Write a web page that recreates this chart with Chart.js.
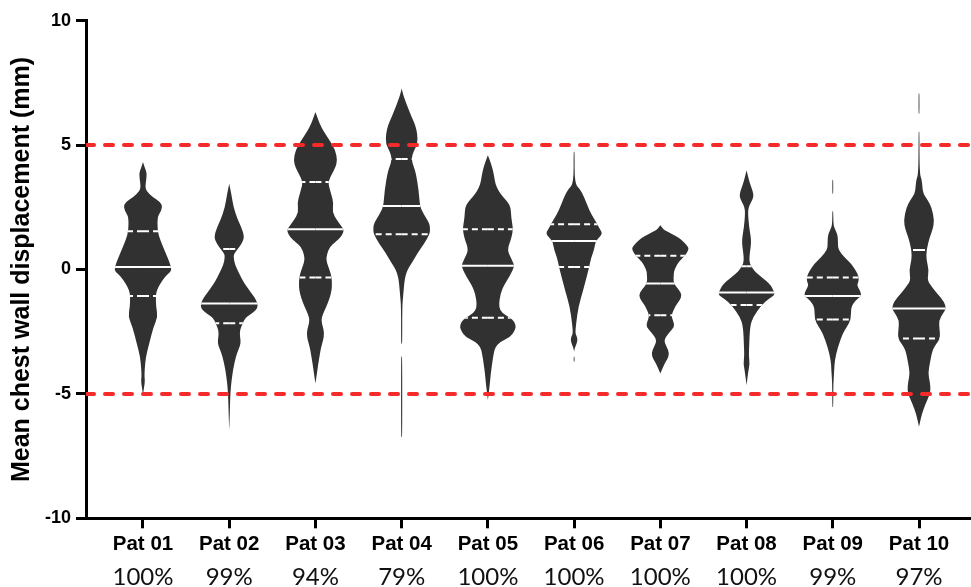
<!DOCTYPE html>
<html>
<head>
<meta charset="utf-8">
<script src="https://cdn.jsdelivr.net/npm/chart.js@4.4.1/dist/chart.umd.min.js"></script>
<style>
  html, body { margin: 0; padding: 0; background: #fff; }
  #wrap { width: 971px; height: 587px; }
</style>
</head>
<body>
<div id="wrap"><canvas id="violinChart"></canvas></div>
<script>
const patients = ["Pat 01", "Pat 02", "Pat 03", "Pat 04", "Pat 05", "Pat 06", "Pat 07", "Pat 08", "Pat 09", "Pat 10"];
const inRange = ["100%", "99%", "94%", "79%", "100%", "100%", "100%", "100%", "99%", "97%"];
const medians = [0.10, -1.37, 1.62, 2.55, 0.15, 1.15, -0.56, -0.92, -1.07, -1.57];
const upperQuartiles = [1.54, 0.82, 3.52, 4.44, 1.62, 1.82, 0.55, 0.13, -0.32, 0.78];
const lowerQuartiles = [-1.07, -2.16, -0.32, 1.42, -1.94, 0.10, -1.84, -1.43, -2.01, -2.77];
const limitLines = [5, -5];

// violin outlines: [displacement (mm), relative width (1 = widest)]
const pat01 = [[4.32,0],[4.10,0.06],[3.90,0.13],[3.65,0.12],[3.35,0.08],[3.15,0.12],[2.90,0.35],[2.70,0.62],[2.50,0.69],[2.25,0.58],[2.10,0.51],[1.55,0.51],[1.20,0.60],[0.70,0.78],[0.30,0.93],[0.10,0.98],[-0.05,1.0],[-0.30,0.77],[-0.56,0.61],[-0.85,0.48],[-1.07,0.45],[-1.50,0.46],[-1.90,0.52],[-2.30,0.37],[-2.97,0.22],[-3.51,0.10],[-4.00,0.06],[-4.31,0.05],[-4.50,0.07],[-4.70,0.04],[-5.05,0]];
const pat02 = [[3.45,0],[3.0,0.08],[2.5,0.15],[2.0,0.30],[1.71,0.42],[1.31,0.54],[1.0,0.42],[0.82,0.30],[0.65,0.18],[0.51,0.15],[0.2,0.20],[-0.16,0.35],[-0.50,0.50],[-0.83,0.70],[-1.05,0.85],[-1.23,0.94],[-1.37,0.99],[-1.50,1.0],[-1.63,0.94],[-1.80,0.75],[-1.96,0.55],[-2.16,0.48],[-2.44,0.37],[-2.70,0.38],[-2.97,0.41],[-3.20,0.33],[-3.51,0.23],[-4.00,0.14],[-4.31,0.10],[-4.70,0.06],[-5.12,0.035],[-5.8,0.02],[-6.45,0]];
const pat03 = [[6.33,0],[6.0,0.10],[5.73,0.20],[5.45,0.35],[5.19,0.50],[4.80,0.70],[4.39,0.77],[4.10,0.70],[3.86,0.59],[3.52,0.44],[3.25,0.50],[3.05,0.55],[2.65,0.64],[2.31,0.59],[1.98,0.76],[1.75,0.90],[1.62,0.99],[1.50,0.98],[1.31,0.90],[1.10,0.70],[0.91,0.50],[0.60,0.40],[0.37,0.38],[0.15,0.44],[-0.03,0.50],[-0.32,0.57],[-0.60,0.58],[-0.83,0.57],[-1.15,0.50],[-1.50,0.38],[-1.80,0.26],[-2.04,0.20],[-2.30,0.26],[-2.57,0.31],[-2.85,0.27],[-3.11,0.20],[-3.45,0.15],[-3.78,0.10],[-4.2,0.05],[-4.58,0]];
const pat04 = [[7.27,0],[7.0,0.06],[6.80,0.12],[6.45,0.24],[6.13,0.35],[5.80,0.48],[5.46,0.55],[5.06,0.56],[4.72,0.41],[4.44,0.34],[4.15,0.42],[3.86,0.50],[3.18,0.60],[2.55,0.64],[2.25,0.76],[1.85,0.98],[1.60,1.0],[1.42,0.98],[1.04,0.79],[0.64,0.55],[0.30,0.38],[0.10,0.26],[-0.15,0.16],[-0.43,0.10],[-1.10,0.05],[-1.50,0.02],[-2.97,0.02],[-2.98,0],[-3.50,0],[-3.51,0.02],[-6.72,0.02],[-6.73,0]];
const pat05 = [[4.59,0],[4.35,0.08],[4.12,0.15],[3.75,0.22],[3.45,0.26],[3.15,0.38],[2.92,0.53],[2.70,0.70],[2.51,0.80],[2.11,0.82],[1.80,0.86],[1.62,0.88],[1.40,0.85],[1.18,0.80],[0.78,0.68],[0.44,0.82],[0.25,0.90],[0.15,0.92],[0.0,0.88],[-0.30,0.75],[-0.60,0.58],[-0.96,0.44],[-1.50,0.38],[-1.75,0.50],[-1.94,0.79],[-2.10,0.93],[-2.30,0.99],[-2.50,0.92],[-2.71,0.79],[-2.90,0.45],[-3.11,0.26],[-3.40,0.20],[-3.78,0.15],[-4.20,0.10],[-4.58,0.07],[-5.25,0]];
const pat06 = [[4.73,0],[4.72,0.018],[3.45,0.018],[3.25,0.20],[2.92,0.35],[2.38,0.53],[2.05,0.70],[1.82,0.81],[1.60,0.92],[1.45,0.99],[1.30,0.90],[1.15,0.76],[0.78,0.70],[0.44,0.59],[0.10,0.53],[-0.30,0.44],[-0.83,0.32],[-1.50,0.15],[-2.17,0.07],[-2.57,0.04],[-2.70,0.10],[-2.84,0.12],[-3.0,0.08],[-3.17,0.02],[-3.30,0],[-3.50,0],[-3.51,0.015],[-3.70,0.015],[-3.71,0]];
const pat07 = [[1.78,0],[1.60,0.12],[1.51,0.26],[1.35,0.55],[1.18,0.76],[0.95,0.95],[0.84,1.0],[0.70,0.95],[0.55,0.86],[0.40,0.72],[0.24,0.61],[0.0,0.50],[-0.16,0.47],[-0.56,0.46],[-0.80,0.65],[-1.03,0.76],[-1.25,0.68],[-1.43,0.55],[-1.84,0.38],[-2.10,0.46],[-2.30,0.50],[-2.55,0.30],[-2.84,0.12],[-3.10,0.22],[-3.37,0.32],[-3.60,0.25],[-3.78,0.15],[-4.18,0]];
const pat08 = [[3.99,0],[3.70,0.06],[3.45,0.12],[3.15,0.22],[2.92,0.25],[2.70,0.16],[2.51,0.07],[2.25,0.05],[1.71,0.09],[1.30,0.15],[1.04,0.16],[0.70,0.12],[0.37,0.09],[0.13,0.15],[-0.16,0.35],[-0.56,0.82],[-0.92,0.98],[-1.05,0.97],[-1.17,0.79],[-1.43,0.53],[-1.90,0.23],[-2.30,0.12],[-3.11,0.09],[-3.50,0.08],[-3.78,0.11],[-4.10,0.06],[-4.65,0]];
const pat09 = [[3.61,0],[3.60,0.015],[3.05,0.015],[3.04,0],[2.35,0],[2.34,0.015],[1.90,0.02],[1.71,0.04],[1.50,0.13],[1.31,0.18],[1.0,0.18],[0.78,0.20],[0.50,0.40],[0.24,0.64],[-0.05,0.82],[-0.32,0.92],[-0.50,0.90],[-0.63,0.85],[-0.80,0.93],[-0.95,0.99],[-1.07,0.99],[-1.25,0.80],[-1.50,0.64],[-2.01,0.64],[-2.30,0.50],[-2.57,0.35],[-3.11,0.18],[-3.64,0.07],[-4.04,0.05],[-4.40,0.03],[-4.71,0.02],[-5.52,0.015],[-5.53,0]];
const pat10 = [[7.08,0],[7.07,0.015],[6.27,0.015],[6.26,0],[5.54,0],[5.53,0.015],[3.86,0.02],[3.59,0.10],[3.30,0.12],[3.05,0.15],[2.80,0.30],[2.51,0.44],[1.98,0.54],[1.60,0.48],[1.31,0.38],[0.78,0.26],[0.37,0.26],[-0.03,0.35],[-0.43,0.29],[-0.70,0.45],[-0.96,0.64],[-1.30,0.88],[-1.57,0.96],[-1.75,0.85],[-2.04,0.70],[-2.40,0.72],[-2.77,0.75],[-3.00,0.60],[-3.24,0.47],[-3.78,0.38],[-4.18,0.32],[-4.50,0.38],[-4.85,0.41],[-5.10,0.35],[-5.38,0.24],[-5.80,0.10],[-6.32,0]];
const profiles = [pat01, pat02, pat03, pat04, pat05, pat06, pat07, pat08, pat09, pat10];

const X_MIN = -0.661, X_MAX = 9.603;
const HALF_WIDTH = 0.33;   // widest half-violin, in category units
const VIOLIN_COLOR = "#313131";

// white median / quartile line, drawn from the centre outwards so dashes stay symmetric
function quartileLine(ctx, x, y, i, value, dash) {
    const py = y.getPixelForValue(value);
    const cx = x.getPixelForValue(i);
    ctx.setLineDash(dash);
    [-0.5, 0.5].forEach((side) => {
        ctx.beginPath();
        ctx.moveTo(cx, py);
        ctx.lineTo(x.getPixelForValue(i + side), py);
        ctx.stroke();
    });
}

// cut a profile where it closes to zero width, so gaps stay empty
function splitRuns(prof) {
    const runs = [];
    let cur = [];
    prof.forEach((p) => {
        cur.push(p);
        if (p[1] === 0 && cur.length > 1) {
            runs.push(cur);
            cur = [];
        }
    });
    if (cur.length > 1) runs.push(cur);
    return runs;
}

// outline points: left side going down, right side coming back up
function outline(run, i, x, y) {
    const pts = run.map(([v, d]) => [x.getPixelForValue(i - d * HALF_WIDTH), y.getPixelForValue(v)]);
    for (let k = run.length - 1; k >= 0; k--) {
        const [v, d] = run[k];
        pts.push([x.getPixelForValue(i + d * HALF_WIDTH), y.getPixelForValue(v)]);
    }
    return pts;
}

// closed sub-path smoothed through the midpoints
function smoothShape(ctx, pts) {
    const n = pts.length;
    const mid = (a, b) => [(a[0] + b[0]) / 2, (a[1] + b[1]) / 2];
    const start = mid(pts[n - 1], pts[0]);
    ctx.moveTo(start[0], start[1]);
    for (let k = 0; k < n; k++) {
        const p = pts[k];
        const m = mid(p, pts[(k + 1) % n]);
        ctx.quadraticCurveTo(p[0], p[1], m[0], m[1]);
    }
    ctx.closePath();
}

const violinPlugin = {
    id: "violins",
    beforeDatasetsDraw(chart) {
        const { ctx, scales: { x, y } } = chart;
        profiles.forEach((prof, i) => {
            ctx.save();
            ctx.beginPath();
            splitRuns(prof).forEach((run) => smoothShape(ctx, outline(run, i, x, y)));
            ctx.fillStyle = VIOLIN_COLOR;
            ctx.fill();
            ctx.clip();

            ctx.strokeStyle = "#ffffff";
            ctx.lineWidth = 2;
            quartileLine(ctx, x, y, i, medians[i], []);
            quartileLine(ctx, x, y, i, upperQuartiles[i], [6, 4]);
            quartileLine(ctx, x, y, i, lowerQuartiles[i], [6, 4]);
            ctx.restore();
        });
    },
    afterDraw(chart) {
        const { ctx, scales: { x } } = chart;
        ctx.save();
        ctx.font = "24px Lato";
        ctx.fillStyle = "#111111";
        ctx.textAlign = "center";
        ctx.textBaseline = "alphabetic";
        inRange.forEach((txt, i) => {
            ctx.fillText(txt, x.getPixelForValue(i), 585);
        });
        ctx.restore();
    }
};

const limitDatasets = limitLines.map((v) => ({
    type: "line",
    data: [{ x: X_MIN, y: v }, { x: X_MAX, y: v }],
    borderColor: "#f52a2a",
    borderWidth: 4,
    borderDash: [8, 11],
    borderCapStyle: "round",
    pointRadius: 0,
    fill: false
}));

new Chart(document.getElementById("violinChart"), {
    type: "scatter",
    data: { datasets: limitDatasets },
    plugins: [violinPlugin],
    options: {
        responsive: true,
        maintainAspectRatio: false,
        animation: false,
        layout: { padding: { top: 20.7, right: 0, bottom: 0, left: 0 } },
        plugins: { legend: { display: false }, tooltip: { enabled: false } },
        scales: {
            x: {
                type: "linear",
                min: X_MIN,
                max: X_MAX,
                afterBuildTicks: (s) => { s.ticks = patients.map((_, i) => ({ value: i })); },
                afterFit: (s) => { s.height = 68.7; },
                border: { display: true, color: "#000", width: 3 },
                grid: { drawOnChartArea: false, drawTicks: true, tickLength: 10, tickWidth: 3, tickColor: "#000" },
                ticks: {
                    callback: (value) => patients[value],
                    font: { family: "'Liberation Sans', Arial, sans-serif", size: 20.5, weight: "bold" },
                    color: "#000",
                    padding: 4,
                    maxRotation: 0,
                    autoSkip: false
                }
            },
            y: {
                min: -10,
                max: 10,
                afterFit: (s) => { s.width = 86; },
                border: { display: true, color: "#000", width: 3 },
                grid: { drawOnChartArea: false, drawTicks: true, tickLength: 10, tickWidth: 3, tickColor: "#000" },
                ticks: {
                    stepSize: 5,
                    font: { family: "'Liberation Sans', Arial, sans-serif", size: 18, weight: "bold" },
                    color: "#000",
                    padding: 5
                },
                title: {
                    display: true,
                    text: "Mean chest wall displacement (mm)",
                    font: { family: "'Liberation Sans', Arial, sans-serif", size: 25, weight: "bold" },
                    color: "#000",
                    padding: { top: 7, bottom: 0 }
                }
            }
        }
    }
});
</script>
</body>
</html>
